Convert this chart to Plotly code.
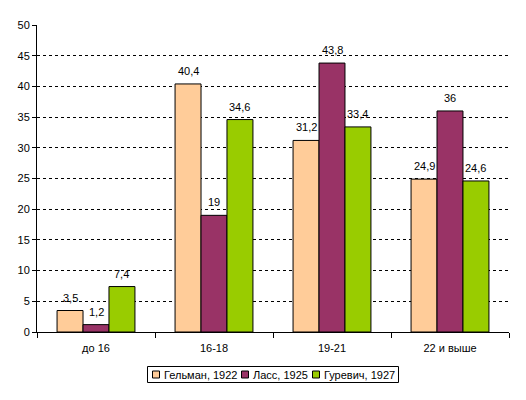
import plotly.graph_objects as go

categories = ["до 16", "16-18", "19-21", "22 и выше"]
gelman_1922 = [3.5, 40.4, 31.2, 24.9]
lass_1925 = [1.2, 19, 43.8, 36]
gurevich_1927 = [7.4, 34.6, 33.4, 24.6]

series = [
    ("Гельман, 1922", gelman_1922, "#FFCC99"),
    ("Ласс, 1925", lass_1925, "#993366"),
    ("Гуревич, 1927", gurevich_1927, "#99CC00"),
]

W, H = 526, 400
ML, MR, MT, MB = 37, 17, 25, 68
PW, PH = W - ML - MR, H - MT - MB
FONT = "Liberation Sans, Arial"

def px_x(p):
    return (p - ML) / PW

def px_y(p):
    return (H - MB - p) / PH

fig = go.Figure()
bar_px = PW / len(categories) * (1 - 0.34) / len(series)
annotations = []
for i, (name, vals, color) in enumerate(series):
    fig.add_trace(go.Bar(
        x=categories, y=vals, name=name, showlegend=False,
        marker=dict(color=color, line=dict(color="black", width=1)),
    ))
    for c, v in zip(categories, vals):
        annotations.append(dict(
            x=c, y=v, xref="x", yref="y", text=str(v).replace(".", ","),
            showarrow=False, xshift=(i - 1) * bar_px, yshift=13,
            yanchor="middle", xanchor="center",
            font=dict(family=FONT, size=11, color="black"),
        ))

# custom legend (box, coloured squares, labels)
shapes = [dict(type="rect", xref="paper", yref="paper",
               x0=px_x(147.5), x1=px_x(398.5), y0=px_y(366.5), y1=px_y(382.5),
               line=dict(color="black", width=1), fillcolor="white")]
leg_sq = [152, 241, 312]
leg_cy = 374.5
for (name, vals, color), sx in zip(series, leg_sq):
    shapes.append(dict(type="rect", xref="paper", yref="paper",
                       x0=px_x(sx + 0.5), x1=px_x(sx + 7.5),
                       y0=px_y(leg_cy - 3.5), y1=px_y(leg_cy + 3.5),
                       line=dict(color="black", width=1), fillcolor=color))
    annotations.append(dict(x=px_x(sx + 10), y=px_y(leg_cy), xref="paper", yref="paper",
                            text=name, showarrow=False, xanchor="left", yanchor="middle",
                            font=dict(family=FONT, size=11, color="black")))

fig.update_layout(
    width=W, height=H,
    margin=dict(l=ML, r=MR, t=MT, b=MB, autoexpand=False),
    barmode="group", bargap=0.34, bargroupgap=0,
    plot_bgcolor="white", paper_bgcolor="white",
    font=dict(family=FONT, size=11, color="black"),
    separators=", ",
    showlegend=False,
    shapes=shapes,
    annotations=annotations,
)
fig.update_xaxes(
    showline=True, linecolor="black", linewidth=1,
    ticks="outside", tickson="boundaries", ticklen=5, tickcolor="black",
    showgrid=False, ticklabelstandoff=6,
)
fig.update_yaxes(
    range=[0, 50], dtick=5, showline=True, linecolor="black", linewidth=1,
    ticks="outside", ticklen=4, tickcolor="black",
    showgrid=True, gridcolor="black", griddash="3px,3px", gridwidth=1,
    zeroline=False,
)
fig.write_html("out.html", config={"displayModeBar": False},
               post_script="document.body.style.margin='0';")
